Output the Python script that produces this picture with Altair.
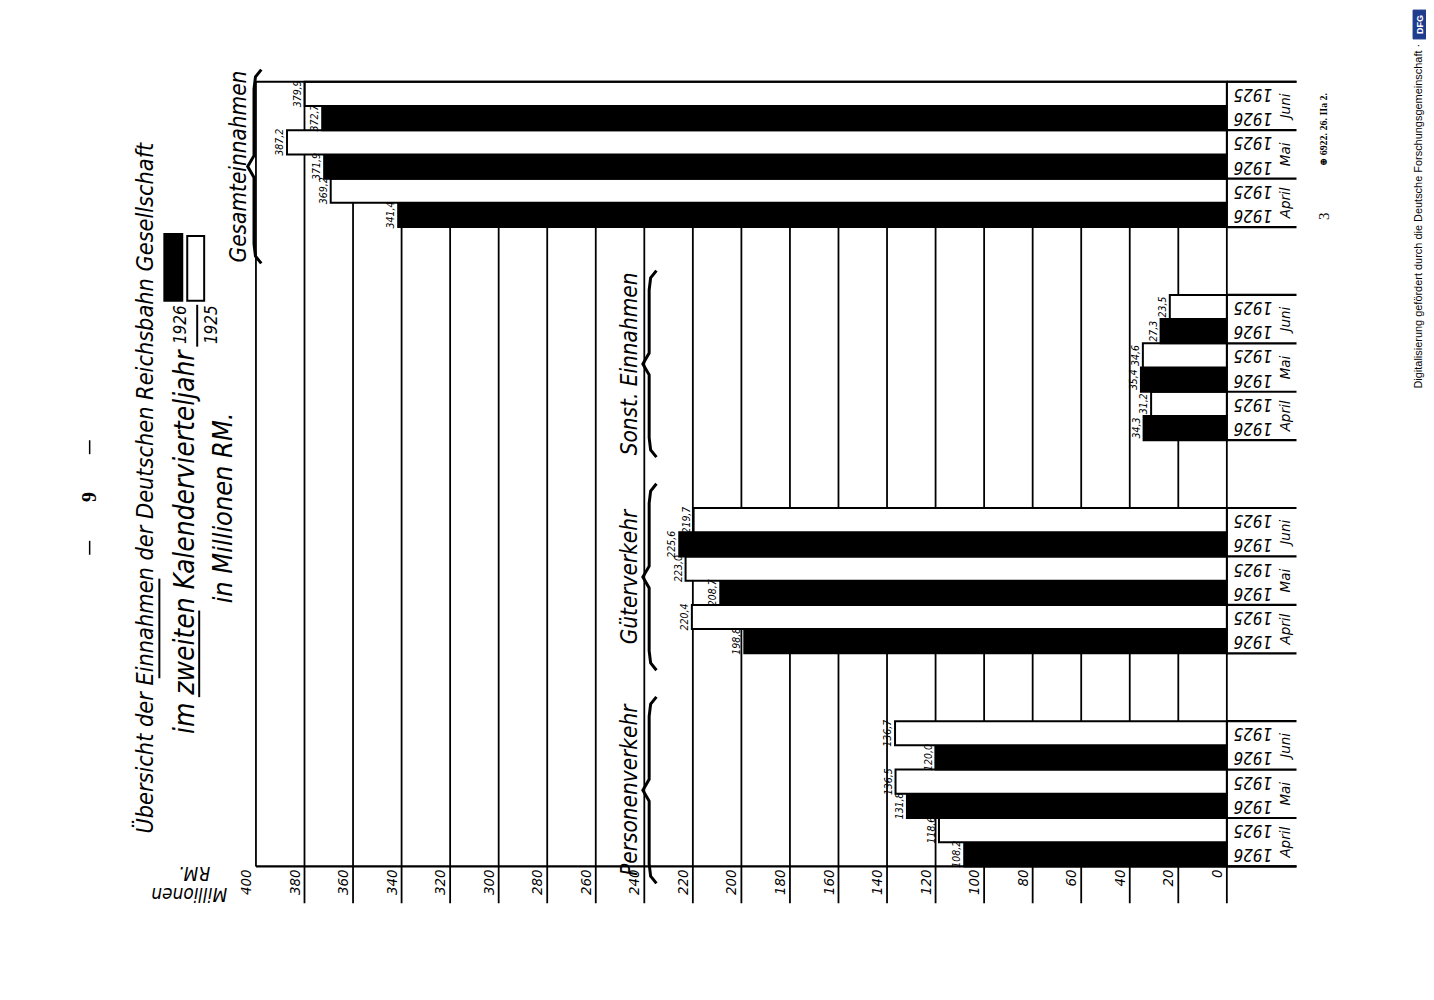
import altair as alt
import pandas as pd

# ---------------- data ----------------
groups = ["Gesamteinnahmen", "Sonst. Einnahmen", "Güterverkehr", "Personenverkehr"]
months = ["April", "Mai", "Juni"]
years = ["1926", "1925"]

gesamt_1926 = [341.4, 371.9, 372.7]
gesamt_1925 = [369.2, 387.2, 379.9]
sonst_1926 = [34.3, 35.4, 27.3]
sonst_1925 = [31.2, 34.6, 23.5]
gueter_1926 = [198.8, 208.7, 225.6]
gueter_1925 = [220.4, 223.0, 219.7]
personen_1926 = [108.2, 131.8, 120.0]
personen_1925 = [118.6, 136.5, 136.7]

tick_values = [0, 20, 40, 60, 80, 100, 120, 140, 160, 180, 200,
               220, 240, 260, 280, 300, 320, 340, 360, 380, 400]

series = {
    groups[0]: (gesamt_1926, gesamt_1925),
    groups[1]: (sonst_1926, sonst_1925),
    groups[2]: (gueter_1926, gueter_1925),
    groups[3]: (personen_1926, personen_1925),
}

# ---------------- layout ----------------
PITCH = 8.8
YMAX = 3 * PITCH + 6
X_YEAR = -10.7
X_MONTH = -24.0
X_BOX = -28.7
FONT = "Liberation Sans Narrow, DejaVu Sans Condensed, sans-serif"
SERIF = "Liberation Serif, DejaVu Serif, serif"

rows, month_rows, hlines, group_rows, brace_rows = [], [], [], [], []
for g, name in enumerate(groups):
    v26, v25 = series[name]
    gtop = g * PITCH
    for m, month in enumerate(months):
        ptop = gtop + (2 - m) * 2
        month_rows.append(dict(month=month, mid=ptop + 1, xm=X_MONTH))
        for year, vals in (("1926", v26), ("1925", v25)):
            top = ptop + (1 if year == "1926" else 0)
            rows.append(dict(group=name, month=month, year=year, value=vals[m],
                             zero=0, top=top, bot=top + 1, mid=top + 0.5, xy=X_YEAR,
                             label=f"{vals[m]:.1f}".replace(".", ",")))
    for k in (0, 2, 4, 6):
        hlines.append(dict(x1=0, x2=X_BOX, y=gtop + k))
    if g == 0:
        gx, bx, a, b = 407, 400.8, gtop - 0.5, gtop + 7.5
    else:
        gx, bx, a, b = 246, 238, gtop - 1.0, gtop + 6.7
    c = (a + b) / 2
    group_rows.append(dict(group=name, x=gx, y=c))
    pts = [(bx - 3, a), (bx - 0.6, a + 0.3), (bx, a + 0.8), (bx, c - 0.45),
           (bx + 2.6, c), (bx, c + 0.45), (bx, b - 0.8), (bx - 0.6, b - 0.3), (bx - 3, b)]
    for i, (px, py) in enumerate(pts):
        brace_rows.append(dict(group=name, order=i, x=px, y=py))
hlines.append(dict(x1=400, x2=X_BOX, y=0))
hlines.append(dict(x1=400, x2=X_BOX, y=YMAX))

bars = pd.DataFrame(rows)
mon = pd.DataFrame(month_rows)
hl = pd.DataFrame(hlines)
grp = pd.DataFrame(group_rows)
brace = pd.DataFrame(brace_rows)
grid = pd.DataFrame(dict(tick=tick_values[:-1]))
grid400 = pd.DataFrame(dict(tick=[400]))
ticks = pd.DataFrame(dict(tick=tick_values, label=[str(t) for t in tick_values]))

xs = alt.Scale(domain=[0, 400], reverse=True, nice=False, zero=False)
ys = alt.Scale(domain=[0, YMAX], reverse=True, nice=False, zero=False)

gridlines = alt.Chart(grid).mark_rule(color="black", strokeWidth=1.8).encode(
    x=alt.X("tick:Q", scale=xs, axis=None),
    y=alt.value(0), y2=alt.value(825))
line400 = alt.Chart(grid400).mark_rule(color="black", strokeWidth=1.8).encode(
    x=alt.X("tick:Q", scale=xs, axis=None),
    y=alt.value(0), y2=alt.value(788))

ticklabels = alt.Chart(ticks).mark_text(angle=270, align="right", baseline="bottom",
                                        dy=-2, fontSize=15, font=FONT, fontStyle="italic",
                                        color="black").encode(
    x=alt.X("tick:Q", scale=xs, axis=None), y=alt.value(791), text="label:N")

hrules = alt.Chart(hl).mark_rule(color="black", strokeWidth=2.2).encode(
    x=alt.X("x1:Q", scale=xs, axis=None), x2="x2:Q",
    y=alt.Y("y:Q", scale=ys, axis=None))

barl = alt.Chart(bars).mark_rect(stroke="black", strokeWidth=2).encode(
    x=alt.X("value:Q", scale=xs, axis=None), x2="zero:Q",
    y=alt.Y("top:Q", scale=ys, axis=None), y2="bot:Q",
    fill=alt.Fill("year:N", scale=alt.Scale(domain=years, range=["black", "white"]),
                  legend=None))

vlabels = alt.Chart(bars).mark_text(angle=270, align="center", baseline="bottom",
                                    dy=-2, fontSize=10.5, font=FONT, fontStyle="italic",
                                    color="black").encode(
    x=alt.X("value:Q", scale=xs, axis=None),
    y=alt.Y("mid:Q", scale=ys, axis=None), text="label:N")

ylabels = alt.Chart(bars).mark_text(angle=180, align="center", baseline="middle",
                                    fontSize=17, font=FONT, fontStyle="italic",
                                    color="black").encode(
    x=alt.X("xy:Q", scale=xs, axis=None),
    y=alt.Y("mid:Q", scale=ys, axis=None), text="year:N")

mlabels = alt.Chart(mon).mark_text(angle=270, align="center", baseline="middle",
                                   fontSize=15, font=FONT, fontStyle="italic",
                                   color="black").encode(
    x=alt.X("xm:Q", scale=xs, axis=None),
    y=alt.Y("mid:Q", scale=ys, axis=None), text="month:N")

glabels = alt.Chart(grp).mark_text(angle=270, align="center", baseline="middle",
                                   fontSize=22.5, font=FONT, fontStyle="italic",
                                   color="black").encode(
    x=alt.X("x:Q", scale=xs, axis=None),
    y=alt.Y("y:Q", scale=ys, axis=None), text="group:N")

braces = alt.Chart(brace).mark_line(color="black", strokeWidth=3).encode(
    x=alt.X("x:Q", scale=xs, axis=None),
    y=alt.Y("y:Q", scale=ys, axis=None),
    detail="group:N", order="order:Q")

one = pd.DataFrame({"a": [0]})


def ann(text, x, y, size, angle=270, font=FONT, style="italic", weight="normal",
        color="black", align="center", baseline="middle"):
    return alt.Chart(one).mark_text(text=text, angle=angle, fontSize=size, font=font,
                                    fontStyle=style, fontWeight=weight, color=color,
                                    align=align, baseline=baseline).encode(
        x=alt.value(x), y=alt.value(y))


def box(x1, x2, y1, y2, fill, stroke="black", sw=2):
    return alt.Chart(one).mark_rect(fill=fill, stroke=stroke, strokeWidth=sw).encode(
        x=alt.value(x1), x2=alt.value(x2), y=alt.value(y1), y2=alt.value(y2))


def seg(x1, x2, y1, y2, sw=2):
    return alt.Chart(one).mark_rule(color="black", strokeWidth=sw).encode(
        x=alt.value(x1), x2=alt.value(x2), y=alt.value(y1), y2=alt.value(y2))


decor = [
    ann("Übersicht der Einnahmen der Deutschen Reichsbahn Gesellschaft", -110, 755, 23.4,
        align="left"),
    seg(-97, -97, 499, 599, 2),
    ann("im zweiten Kalendervierteljahr", -70, 655, 28, align="left"),
    seg(-57, -57, 531, 618, 2),
    ann("in Millionen  RM.", -32, 428, 27),
    ann("1926", -75, 244, 17),
    ann("1925", -44, 244, 17),
    seg(-59, -59, 224, 266, 2),
    box(-92, -74, 153, 220, "black"),
    box(-69, -52, 155, 220, "white"),
    ann("RM.", -62, 795, 19, angle=180),
    ann("Millionen", -67, 816, 19, angle=180),
    ann("9", -167, 417, 20, font=SERIF, style="normal", weight="bold"),
    seg(-167, -167, 360, 374, 1.5),
    seg(-167, -167, 461, 475, 1.5),
    ann("3", 1073, 135, 15, font=SERIF, style="normal"),
    ann("⊕ 6922. 26. IIa 2.", 1073, 48, 10, font=SERIF, style="normal", weight="bold"),
    ann("Digitalisierung gefördert durch die Deutsche Forschungsgemeinschaft ·",
        1168, 135, 11, font="Liberation Sans, Arial, sans-serif", style="normal"),
    box(1162, 1175, -72, -43, "#1f3b8c", stroke="#1f3b8c", sw=1),
    ann("DFG", 1168.5, -57.5, 9, font="Liberation Sans, Arial, sans-serif",
        style="normal", weight="bold", color="white"),
]

chart = alt.layer(gridlines, line400, barl, hrules, ticklabels, vlabels, ylabels,
                  mlabels, glabels, braces, *decor).properties(
    width=975, height=788,
    autosize=alt.AutoSizeParams(type="none"),
    padding={"left": 249, "top": 72, "right": 200, "bottom": 120},
    background="white",
).configure_view(stroke=None)

chart.save("out.html", embed_options={"renderer": "svg", "actions": False})
